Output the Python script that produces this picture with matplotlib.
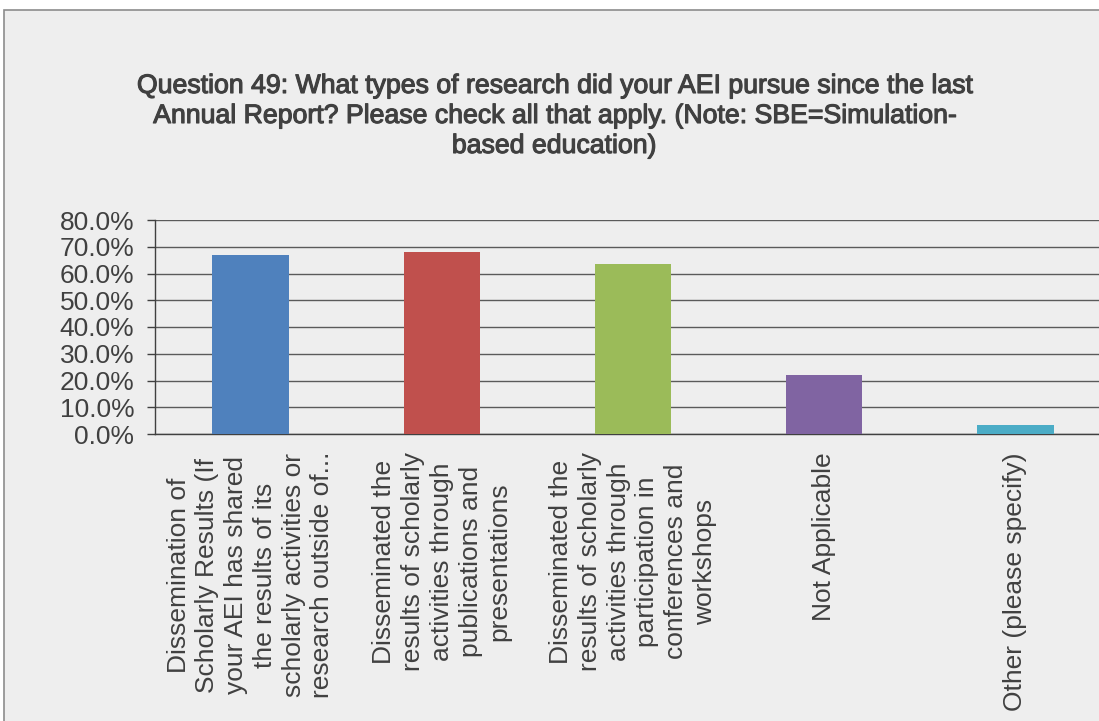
import matplotlib.pyplot as plt
import matplotlib.patheffects as pe
from matplotlib.patches import Rectangle
from matplotlib.ticker import FuncFormatter, MultipleLocator
import numpy as np

plt.rcParams['font.family'] = ['Liberation Sans', 'DejaVu Sans']

# Question 49 responses (share of AEIs)
categories = [
    "Dissemination of\nScholarly Results (If\nyour AEI has shared\nthe results of its\nscholarly activities or\nresearch outside of...",
    "Disseminated the\nresults of scholarly\nactivities through\npublications and\npresentations",
    "Disseminated the\nresults of scholarly\nactivities through\nparticipation in\nconferences and\nworkshops",
    "Not Applicable",
    "Other (please specify)",
]
percent = [66.9, 68.0, 63.6, 22.1, 3.4]
colors = ['#4F81BD', '#C0504D', '#9BBB59', '#8064A2', '#4BACC6']

title = ("Question 49: What types of research did your AEI pursue since the last\n"
         "Annual Report? Please check all that apply. (Note: SBE=Simulation-\n"
         "based education)")

text_color = '#404040'
bg = '#EEEEEE'

fig = plt.figure(figsize=(10.99, 7.21), dpi=100)
fig.patch.set_facecolor('white')

# chart area with its thin grey border
frame = Rectangle((4 / 1099, -0.05), 1.1, 1 - 10 / 721 + 0.05,
                  transform=fig.transFigure, facecolor=bg,
                  edgecolor='#8C8C8C', linewidth=1.2, zorder=-5)
fig.add_artist(frame)

ax = fig.add_axes([155 / 1099, 287 / 721, 956 / 1099, 214 / 721])
ax.set_facecolor(bg)

x = np.arange(len(categories))
ax.bar(x, percent, width=0.4, color=colors, zorder=3)

ax.set_xlim(-0.5, len(categories) - 0.5)
ax.set_ylim(0, 80)
ax.yaxis.set_major_locator(MultipleLocator(10))
ax.yaxis.set_major_formatter(FuncFormatter(lambda v, p: f"{v:.1f}%"))
ax.grid(axis='y', color='#5A5A5A', linewidth=1.0, zorder=1)

for side in ['top', 'right']:
    ax.spines[side].set_visible(False)
for side in ['left', 'bottom']:
    ax.spines[side].set_color('#404040')
    ax.spines[side].set_linewidth(1.0)

ax.tick_params(axis='y', direction='out', length=6, width=1, color='#404040',
               labelsize=19, labelcolor=text_color, pad=9)

ax.set_xticks(x)
ax.set_xticklabels(categories, rotation=90, ha='center', va='top',
                   multialignment='center', linespacing=1.25)
ax.tick_params(axis='x', which='major', length=0, labelsize=19,
               labelcolor=text_color, pad=13)

fig.text(554 / 1099, 1 - 116 / 721, title, ha='center', va='center',
         fontsize=19.2, color=text_color, linespacing=1.2,
         path_effects=[pe.withStroke(linewidth=0.8, foreground=text_color)])

fig.savefig('out.png', dpi=100, facecolor=fig.get_facecolor())
